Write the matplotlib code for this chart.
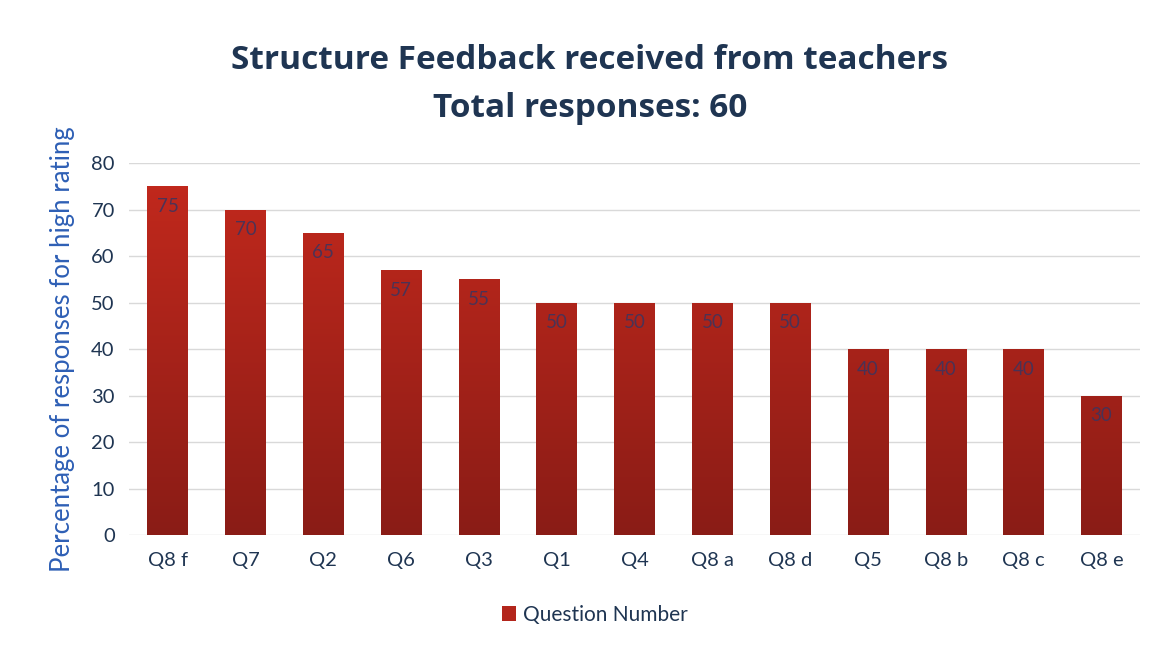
import matplotlib
matplotlib.use("Agg")
import matplotlib.pyplot as plt
import numpy as np
from matplotlib.colors import LinearSegmentedColormap

categories = ["Q8 f", "Q7", "Q2", "Q6", "Q3", "Q1", "Q4", "Q8 a", "Q8 d", "Q5", "Q8 b", "Q8 c", "Q8 e"]
values = [75, 70, 65, 57, 55, 50, 50, 50, 50, 40, 40, 40, 30]
yticks = [0, 10, 20, 30, 40, 50, 60, 70, 80]

navy = "#1F3552"
bar_color = "#B3261C"

fig = plt.figure(figsize=(11.59, 6.45), dpi=100)
ax = fig.add_axes([0.111, 0.1705, 0.873, 0.5765])

x = np.arange(len(categories))
width = 0.52
bars = ax.bar(x, values, width=width, color=bar_color, zorder=3, label="Question Number")

cmap = LinearSegmentedColormap.from_list("redgrad", ["#8A1C16", "#C4291D"])
grad = np.linspace(0, 1, 256).reshape(-1, 1)
for b in bars:
    bx = b.get_x()
    bw = b.get_width()
    im = ax.imshow(grad, cmap=cmap, aspect="auto", origin="lower",
                   extent=[bx, bx + bw, 0, 80], zorder=3.5)
    im.set_clip_path(b)

for xi, v in zip(x, values):
    ax.text(xi, v - 4.3, str(v), ha="center", va="center", fontsize=13.5,
            color="#3A3560", alpha=0.85, family="Lato", zorder=4)

ax.set_xlim(-0.5, len(categories) - 0.5)
ax.set_ylim(0, 80)
ax.set_yticks(yticks)
ax.set_xticks(x)
ax.set_xticklabels(categories)
ax.grid(axis="y", color="#D9D9D9", linewidth=1, zorder=0)
for s in ax.spines.values():
    s.set_visible(False)
ax.tick_params(axis="both", length=0, labelsize=14.5, labelcolor=navy)
ax.tick_params(axis="x", pad=12)
ax.tick_params(axis="y", pad=10)
for lab in ax.get_xticklabels() + ax.get_yticklabels():
    lab.set_family("Lato")

ax.set_ylabel("Percentage of responses for high rating", fontsize=18.5, color="#2E5FB5",
              family="Lato", labelpad=12)

fig.text(0.509, 0.906, "Structure Feedback received from teachers", ha="center", va="center",
         fontsize=24, fontweight="bold", color=navy, family="Open Sans")
fig.text(0.509, 0.832, "Total responses: 60", ha="center", va="center",
         fontsize=24, fontweight="bold", color=navy, family="Open Sans")

leg = fig.legend(handles=[bars], labels=["Question Number"], loc="center",
                 bbox_to_anchor=(0.513, 0.047), frameon=False,
                 handlelength=0.7, handleheight=0.7, handletextpad=0.3,
                 prop={"family": "Lato", "size": 15})
for t in leg.get_texts():
    t.set_color(navy)

fig.savefig("out.png", dpi=100)
